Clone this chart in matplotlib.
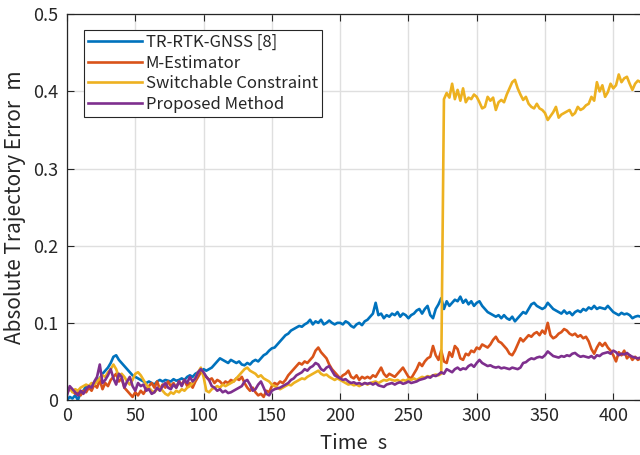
import numpy as np
import matplotlib
matplotlib.use("Agg")
import matplotlib.pyplot as plt

plt.rcParams['font.family'] = ['Noto Sans CJK JP', 'DejaVu Sans']

# time axis (s)
time_s = np.arange(0, 421, 2)

tr_rtk = [
    0.000, 0.004, 0.002, 0.006, 0.000, 0.010, 0.012, 0.018, 0.016, 0.020,
    0.022, 0.026, 0.028, 0.034, 0.038, 0.042, 0.048, 0.056, 0.058, 0.052,
    0.048, 0.044, 0.040, 0.036, 0.032, 0.030, 0.028, 0.026, 0.024, 0.022,
    0.024, 0.022, 0.020, 0.024, 0.026, 0.024, 0.026, 0.025, 0.024, 0.027,
    0.025, 0.026, 0.028, 0.026, 0.030, 0.032, 0.030, 0.034, 0.036, 0.038,
    0.040, 0.038, 0.040, 0.042, 0.046, 0.050, 0.054, 0.052, 0.050, 0.048,
    0.052, 0.050, 0.048, 0.050, 0.046, 0.045, 0.048, 0.046, 0.050, 0.052,
    0.050, 0.054, 0.058, 0.060, 0.064, 0.067, 0.068, 0.072, 0.076, 0.080,
    0.084, 0.086, 0.090, 0.092, 0.094, 0.096, 0.095, 0.098, 0.100, 0.104,
    0.098, 0.102, 0.100, 0.104, 0.098, 0.100, 0.103, 0.100, 0.098, 0.100,
    0.100, 0.098, 0.102, 0.100, 0.096, 0.094, 0.098, 0.100, 0.097, 0.102,
    0.104, 0.108, 0.112, 0.126, 0.110, 0.112, 0.106, 0.110, 0.108, 0.112,
    0.110, 0.114, 0.108, 0.112, 0.110, 0.106, 0.110, 0.112, 0.116, 0.118,
    0.112, 0.118, 0.122, 0.110, 0.106, 0.118, 0.124, 0.132, 0.118, 0.128,
    0.122, 0.126, 0.130, 0.128, 0.134, 0.126, 0.130, 0.124, 0.128, 0.122,
    0.126, 0.128, 0.122, 0.118, 0.114, 0.112, 0.110, 0.108, 0.110, 0.106,
    0.110, 0.106, 0.104, 0.108, 0.102, 0.106, 0.110, 0.114, 0.112, 0.118,
    0.124, 0.126, 0.122, 0.120, 0.118, 0.120, 0.126, 0.122, 0.118, 0.116,
    0.114, 0.112, 0.116, 0.112, 0.114, 0.110, 0.114, 0.116, 0.114, 0.118,
    0.116, 0.120, 0.118, 0.122, 0.118, 0.120, 0.119, 0.118, 0.122, 0.118,
    0.114, 0.112, 0.110, 0.113, 0.111, 0.112, 0.110, 0.106, 0.108, 0.109,
    0.108,
]

m_estimator = [
    0.010, 0.014, 0.012, 0.008, 0.010, 0.006, 0.012, 0.010, 0.016, 0.012,
    0.020, 0.016, 0.026, 0.014, 0.022, 0.018, 0.026, 0.030, 0.034, 0.024,
    0.028, 0.016, 0.012, 0.008, 0.004, 0.010, 0.006, 0.012, 0.008, 0.014,
    0.018, 0.022, 0.016, 0.024, 0.014, 0.020, 0.016, 0.024, 0.018, 0.022,
    0.016, 0.024, 0.020, 0.026, 0.018, 0.022, 0.016, 0.024, 0.030, 0.036,
    0.034, 0.030, 0.026, 0.028, 0.022, 0.026, 0.024, 0.020, 0.024, 0.022,
    0.026, 0.024, 0.028, 0.026, 0.030, 0.022, 0.016, 0.012, 0.016, 0.010,
    0.006, 0.008, 0.004, 0.012, 0.010, 0.018, 0.022, 0.020, 0.024, 0.022,
    0.026, 0.032, 0.036, 0.040, 0.044, 0.048, 0.046, 0.050, 0.048, 0.052,
    0.056, 0.064, 0.068, 0.062, 0.058, 0.054, 0.046, 0.040, 0.036, 0.032,
    0.028, 0.032, 0.034, 0.038, 0.030, 0.028, 0.032, 0.026, 0.030, 0.028,
    0.030, 0.028, 0.032, 0.030, 0.036, 0.042, 0.034, 0.030, 0.034, 0.032,
    0.030, 0.034, 0.038, 0.042, 0.036, 0.030, 0.028, 0.034, 0.040, 0.048,
    0.044, 0.050, 0.054, 0.056, 0.070, 0.058, 0.052, 0.064, 0.050, 0.048,
    0.062, 0.056, 0.070, 0.066, 0.054, 0.052, 0.060, 0.058, 0.064, 0.062,
    0.068, 0.066, 0.072, 0.070, 0.068, 0.072, 0.078, 0.082, 0.076, 0.074,
    0.070, 0.066, 0.060, 0.058, 0.064, 0.072, 0.080, 0.076, 0.080, 0.084,
    0.082, 0.086, 0.088, 0.084, 0.090, 0.086, 0.100, 0.084, 0.080, 0.082,
    0.086, 0.088, 0.092, 0.090, 0.086, 0.084, 0.086, 0.082, 0.084, 0.080,
    0.082, 0.076, 0.066, 0.060, 0.068, 0.074, 0.070, 0.074, 0.068, 0.064,
    0.058, 0.050, 0.062, 0.058, 0.064, 0.054, 0.058, 0.052, 0.056, 0.052,
    0.054,
]

switchable = [
    0.012, 0.016, 0.010, 0.014, 0.012, 0.016, 0.018, 0.020, 0.018, 0.022,
    0.020, 0.024, 0.028, 0.032, 0.030, 0.036, 0.040, 0.046, 0.040, 0.030,
    0.034, 0.030, 0.024, 0.020, 0.026, 0.034, 0.036, 0.032, 0.026, 0.020,
    0.016, 0.012, 0.010, 0.014, 0.016, 0.012, 0.008, 0.006, 0.010, 0.008,
    0.012, 0.010, 0.014, 0.012, 0.016, 0.018, 0.022, 0.028, 0.036, 0.042,
    0.030, 0.012, 0.010, 0.014, 0.016, 0.018, 0.016, 0.020, 0.018, 0.020,
    0.022, 0.024, 0.028, 0.032, 0.036, 0.040, 0.042, 0.038, 0.036, 0.034,
    0.030, 0.032, 0.028, 0.026, 0.024, 0.020, 0.018, 0.016, 0.014, 0.016,
    0.018, 0.020, 0.019, 0.022, 0.024, 0.026, 0.028, 0.027, 0.030, 0.032,
    0.034, 0.036, 0.038, 0.034, 0.032, 0.033, 0.030, 0.028, 0.026, 0.028,
    0.026, 0.024, 0.022, 0.020, 0.021, 0.019, 0.020, 0.018, 0.020, 0.022,
    0.020, 0.022, 0.023, 0.024, 0.022, 0.024, 0.026, 0.025, 0.027, 0.026,
    0.025, 0.026, 0.024, 0.026, 0.025, 0.027, 0.026, 0.028, 0.026, 0.028,
    0.030, 0.029, 0.031, 0.030, 0.032, 0.033, 0.032, 0.034, 0.390, 0.398,
    0.392, 0.410, 0.390, 0.402, 0.388, 0.404, 0.386, 0.392, 0.390, 0.396,
    0.393, 0.386, 0.378, 0.380, 0.393, 0.388, 0.392, 0.376, 0.386, 0.389,
    0.386, 0.396, 0.404, 0.412, 0.415, 0.404, 0.396, 0.389, 0.393, 0.384,
    0.380, 0.378, 0.384, 0.378, 0.376, 0.372, 0.363, 0.368, 0.373, 0.380,
    0.366, 0.370, 0.372, 0.374, 0.376, 0.369, 0.372, 0.380, 0.376, 0.378,
    0.382, 0.384, 0.393, 0.388, 0.412, 0.400, 0.408, 0.393, 0.399, 0.410,
    0.404, 0.408, 0.422, 0.412, 0.417, 0.419, 0.410, 0.402, 0.410, 0.414,
    0.412,
]

proposed = [
    0.006, 0.018, 0.014, 0.010, 0.006, 0.012, 0.008, 0.014, 0.018, 0.016,
    0.024, 0.030, 0.046, 0.022, 0.026, 0.032, 0.040, 0.028, 0.020, 0.034,
    0.030, 0.016, 0.024, 0.030, 0.018, 0.012, 0.022, 0.018, 0.020, 0.012,
    0.014, 0.008, 0.010, 0.016, 0.012, 0.018, 0.022, 0.016, 0.014, 0.020,
    0.016, 0.024, 0.018, 0.026, 0.022, 0.030, 0.024, 0.028, 0.036, 0.040,
    0.036, 0.030, 0.026, 0.018, 0.016, 0.012, 0.014, 0.010, 0.012, 0.009,
    0.010, 0.012, 0.014, 0.016, 0.018, 0.024, 0.026, 0.020, 0.012, 0.014,
    0.020, 0.024, 0.016, 0.008, 0.006, 0.012, 0.014, 0.015, 0.016, 0.018,
    0.020, 0.022, 0.026, 0.028, 0.032, 0.034, 0.036, 0.040, 0.038, 0.042,
    0.044, 0.048, 0.046, 0.040, 0.038, 0.042, 0.044, 0.038, 0.032, 0.030,
    0.028, 0.026, 0.027, 0.024, 0.022, 0.023, 0.021, 0.022, 0.020, 0.022,
    0.021, 0.022, 0.020, 0.022, 0.019, 0.018, 0.017, 0.020, 0.021, 0.022,
    0.020, 0.022, 0.023, 0.021, 0.022, 0.024, 0.022, 0.023, 0.024, 0.026,
    0.027, 0.028, 0.030, 0.029, 0.032, 0.031, 0.033, 0.036, 0.034, 0.040,
    0.038, 0.036, 0.040, 0.042, 0.039, 0.041, 0.040, 0.044, 0.046, 0.043,
    0.048, 0.052, 0.048, 0.046, 0.044, 0.045, 0.043, 0.042, 0.043, 0.041,
    0.042, 0.041, 0.040, 0.042, 0.041, 0.040, 0.042, 0.048, 0.049, 0.052,
    0.054, 0.053, 0.055, 0.056, 0.055, 0.058, 0.063, 0.060, 0.057, 0.056,
    0.055, 0.057, 0.056, 0.058, 0.057, 0.060, 0.061, 0.058, 0.056, 0.057,
    0.056, 0.055, 0.057, 0.054, 0.058, 0.057, 0.060, 0.061, 0.062, 0.060,
    0.064, 0.062, 0.058, 0.060, 0.059, 0.061, 0.058, 0.056, 0.055, 0.054,
    0.055,
]

labels = ["TR-RTK-GNSS [8]", "M-Estimator", "Switchable Constraint", "Proposed Method"]
colors = ["#0072BD", "#D95319", "#EDB120", "#7E2F8E"]
x_ticks = [0, 50, 100, 150, 200, 250, 300, 350, 400]
y_ticks = [0, 0.1, 0.2, 0.3, 0.4, 0.5]
y_tick_labels = ["0", "0.1", "0.2", "0.3", "0.4", "0.5"]

axcol = "#262626"
fig = plt.figure(figsize=(6.4, 4.55), dpi=100)
ax = fig.add_axes([67 / 640, 1 - 400 / 455, (640.6 - 67) / 640, (400 - 14.3) / 455])

for series, lab, col in zip([tr_rtk, m_estimator, switchable, proposed], labels, colors):
    ax.plot(time_s, series, color=col, lw=1.9, label=lab)

ax.set_xlim(0, 420)
ax.set_ylim(0, 0.5)
ax.set_xticks(x_ticks)
ax.set_yticks(y_ticks)
ax.set_yticklabels(y_tick_labels)
ax.grid(True, color="#DFDFDF", lw=1.0)
ax.set_axisbelow(True)
ax.tick_params(direction="in", top=True, right=True, length=5, width=0.8,
               colors=axcol, labelsize=13, labelcolor=axcol)
ax.tick_params(axis="y", pad=6.5)
ax.tick_params(axis="x", pad=5)
for s in ax.spines.values():
    s.set_color(axcol)
    s.set_linewidth(0.9)

ax.set_xlabel("Time\u2002s", fontsize=14.5, color=axcol, labelpad=6)
ax.set_ylabel("Absolute Trajectory Error\u2002m", fontsize=15, color=axcol, labelpad=5)

leg = ax.legend(loc="upper left", bbox_to_anchor=(0.03, 0.96), fontsize=12,
                frameon=True, fancybox=False, edgecolor=axcol, framealpha=1,
                handlelength=3.2, handletextpad=0.25, labelspacing=0.22,
                borderpad=0.25, borderaxespad=0)
leg.get_frame().set_linewidth(0.8)
for t in leg.get_texts():
    t.set_color(axcol)

fig.savefig("out.png", dpi=100)
